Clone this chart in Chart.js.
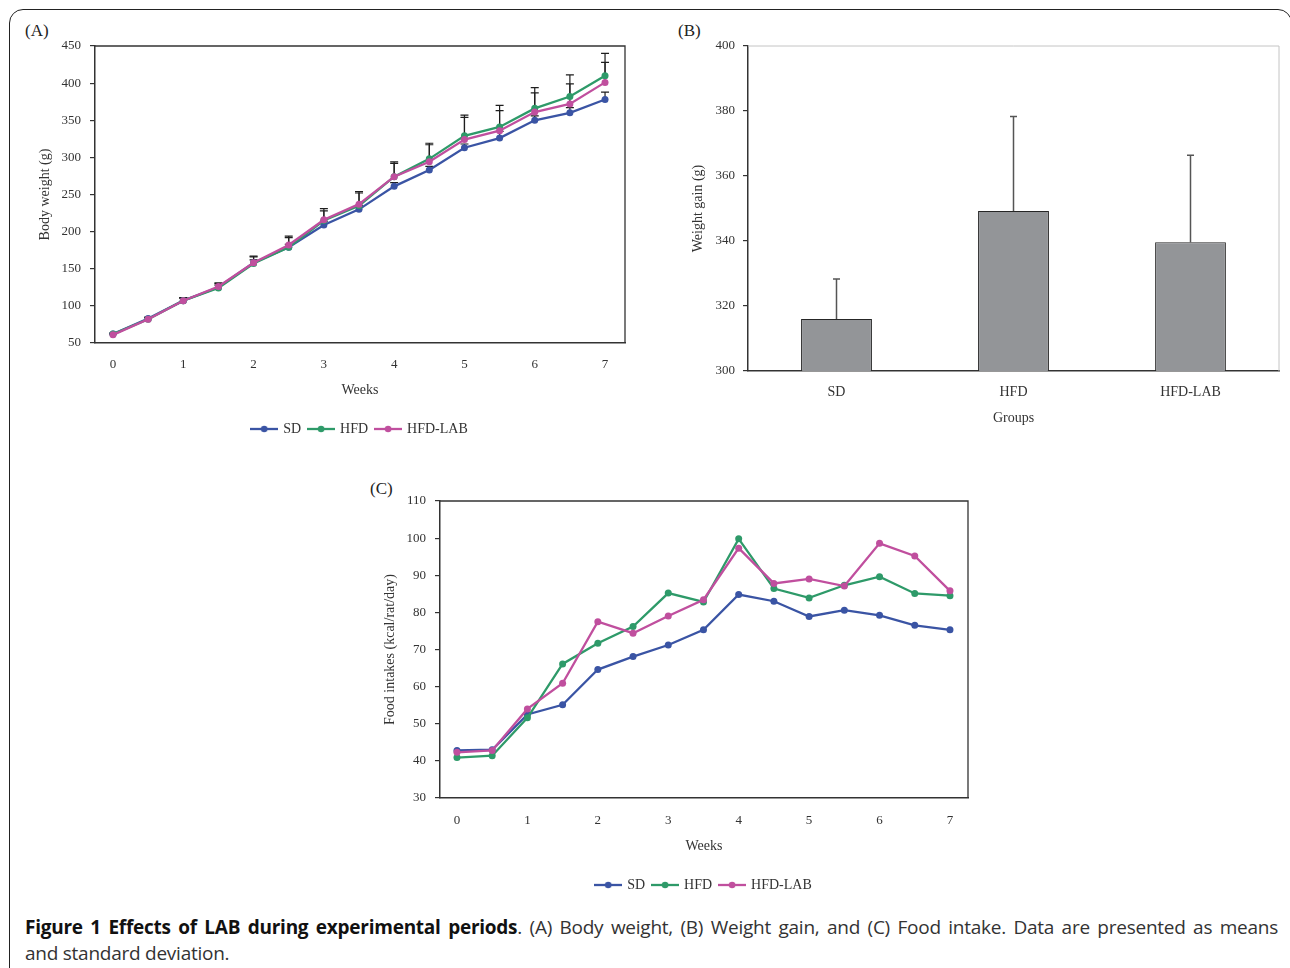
<!DOCTYPE html>
<html>
<head>
<meta charset="utf-8">
<script src="https://cdn.jsdelivr.net/npm/chart.js"></script>
<style>
  html, body { margin: 0; padding: 0; background: #fff; }
  body { width: 1290px; height: 968px; overflow: hidden; position: relative; }
  .frame { position: absolute; left: 9px; top: 9px; width: 1283px; height: 1000px;
           border: 1.5px solid #222; border-radius: 14px; box-sizing: border-box; }
  canvas { position: absolute; }
  .panel { position: absolute; font-family: "Liberation Serif", serif; font-size: 17px; color: #222; }
  .caption { position: absolute; left: 25px; width: 1253px;
             font-family: "Open Sans", sans-serif; font-size: 19px; letter-spacing: -0.25px;
             line-height: 26px; color: #333; white-space: nowrap; }
  .caption.first { top: 914px; text-align: justify; text-align-last: justify; white-space: normal; }
  .caption.second { top: 940px; }
  .caption b { color: #111; }
</style>
</head>
<body>
<div class="frame"></div>
<div class="panel" style="left:25px;top:21px">(A)</div>
<div class="panel" style="left:678px;top:21px">(B)</div>
<div class="panel" style="left:370px;top:479px">(C)</div>

<canvas id="chartA" width="620" height="426" style="left:20px;top:20px"></canvas>
<canvas id="chartB" width="630" height="421" style="left:660px;top:20px"></canvas>
<canvas id="chartC" width="620" height="422" style="left:360px;top:480px"></canvas>

<div class="caption first"><b>Figure 1 Effects of LAB during experimental periods</b>. (A) Body weight, (B) Weight gain, and (C) Food intake. Data are presented as means</div>
<div class="caption second">and standard deviation.</div>

<script>
// weeks on the x axis of (A) and (C)
const weeks = [0, 0.5, 1, 1.5, 2, 2.5, 3, 3.5, 4, 4.5, 5, 5.5, 6, 6.5, 7];
const weekTicks = [0, 1, 2, 3, 4, 5, 6, 7];
const groups = ['SD', 'HFD', 'HFD-LAB'];

// (A) body weight (g), mean and upper SD
const bwSD  = [62, 83, 107, 125, 158, 179, 209, 230, 261, 283, 313, 326, 350, 360, 378];
const bwHFD = [62, 82, 107, 124, 157, 179, 215, 235, 274, 298, 329, 341, 366, 382, 410];
const bwLAB = [61, 82, 107, 126, 158, 182, 216, 237, 274, 294, 324, 336, 361, 372, 401];
const bwErrSD  = [1, 2, 3, 3, 4, 4, 5, 5, 5, 5, 5, 9, 6, 7, 10];
const bwErrHFD = [1, 2, 4, 6, 10, 15, 16, 19, 20, 21, 28, 29, 28, 29, 30];
const bwErrLAB = [1, 2, 4, 5, 8, 10, 12, 15, 18, 23, 30, 27, 26, 27, 27];
const bwTicks = [50, 450, 50];

// (B) weight gain (g)
const gain = [316, 349.2, 339.6];
const gainErr = [12.3, 29.1, 26.8];
const gainTicks = [300, 400, 20];

// (C) food intake (kcal/rat/day)
const fiSD  = [42.8, 43.0, 52.5, 55.1, 64.6, 68.1, 71.2, 75.3, 84.8, 83.0, 78.9, 80.6, 79.2, 76.5, 75.3];
const fiHFD = [40.9, 41.4, 51.6, 66.1, 71.7, 76.2, 85.2, 82.8, 99.8, 86.4, 83.9, 87.3, 89.6, 85.1, 84.5];
const fiLAB = [42.3, 42.8, 54.0, 60.9, 77.5, 74.4, 79.0, 83.4, 97.3, 87.8, 89.0, 87.1, 98.6, 95.2, 85.8];
const fiTicks = [30, 110, 10];

const colSD = '#3a54a4', colHFD = '#2e9a69', colLAB = '#c04f9e';
const serif = '"Liberation Serif", "Times New Roman", serif';
const ink = '#333';

function pts(ys) { return ys.map((y, i) => ({ x: weeks[i], y })); }
function val(d) { return (d !== null && typeof d === 'object') ? d.y : d; }

// line + dot marker for the legend
function lineMarker(color) {
  const c = document.createElement('canvas');
  c.width = 28; c.height = 8;
  const g = c.getContext('2d');
  g.strokeStyle = color; g.lineWidth = 2.3;
  g.beginPath(); g.moveTo(0, 4); g.lineTo(28, 4); g.stroke();
  g.fillStyle = color;
  g.beginPath(); g.arc(14, 4, 3.3, 0, Math.PI * 2); g.fill();
  return c;
}

// upward error bars
const errorBars = {
  id: 'errorBars',
  beforeDatasetsDraw(chart, args, opts) {
    const { ctx } = chart;
    const y = chart.scales.y;
    ctx.save();
    ctx.strokeStyle = opts.color || '#222';
    ctx.lineWidth = opts.width || 1.2;
    chart.data.datasets.forEach((ds, i) => {
      if (!ds.errors) return;
      chart.getDatasetMeta(i).data.forEach((el, j) => {
        const v = val(ds.data[j]);
        const y0 = y.getPixelForValue(v);
        const y1 = y.getPixelForValue(v + ds.errors[j]);
        const cap = (opts.cap || 8) / 2;
        ctx.beginPath();
        ctx.moveTo(el.x, y0); ctx.lineTo(el.x, y1);
        ctx.moveTo(el.x - cap, y1); ctx.lineTo(el.x + cap, y1);
        ctx.stroke();
      });
    });
    ctx.restore();
  }
};

// top and right edges of the plot
const frame = {
  id: 'frame',
  beforeDatasetsDraw(chart, args, opts) {
    const { ctx, chartArea: a } = chart;
    ctx.save();
    ctx.strokeStyle = opts.color;
    ctx.lineWidth = opts.width;
    ctx.beginPath();
    ctx.moveTo(a.left, a.top); ctx.lineTo(a.right, a.top); ctx.lineTo(a.right, a.bottom);
    ctx.stroke();
    ctx.restore();
  }
};

// centre the legend on the plot area rather than on the canvas
const centerLegend = {
  id: 'centerLegend',
  afterLayout(chart) {
    const l = chart.legend;
    if (!l) return;
    const w = l.right - l.left;
    const c = (chart.chartArea.left + chart.chartArea.right) / 2;
    l.left = c - w / 2; l.right = c + w / 2;
  }
};

function yAxis(t, title, width, pad) {
  return {
    min: t[0], max: t[1],
    ticks: { stepSize: t[2], color: ink, font: { family: serif, size: 13 }, padding: pad },
    grid: { drawOnChartArea: false, drawTicks: true, tickLength: 5, color: ink, lineWidth: 1.2 },
    border: { color: ink, width: 1.5 },
    title: { display: true, text: title, color: ink, font: { family: serif, size: 14 }, padding: 0 },
    afterFit(s) { s.width = width; }
  };
}

function weekAxis(min, max, tickPad, titlePad, height) {
  return {
    type: 'linear', min, max,
    afterBuildTicks(s) { s.ticks = weekTicks.map(v => ({ value: v })); },
    ticks: { color: ink, font: { family: serif, size: 13 }, padding: tickPad },
    grid: { display: false, drawTicks: false },
    border: { color: ink, width: 1.5 },
    title: { display: true, text: 'Weeks', color: ink, font: { family: serif, size: 14 },
             padding: { top: 0, bottom: titlePad } },
    afterFit(s) { s.height = height; }
  };
}

function lineDatasets(sd, hfd, lab, errs) {
  const mk = (label, data, color, order, err) => ({
    label, data: pts(data), borderColor: color, backgroundColor: color,
    borderWidth: 2.3, pointRadius: 3.5, pointBorderWidth: 0, pointHoverRadius: 3.5,
    order, errors: err
  });
  return [
    mk('SD', sd, colSD, 3, errs && errs[0]),
    mk('HFD', hfd, colHFD, 2, errs && errs[1]),
    mk('HFD-LAB', lab, colLAB, 1, errs && errs[2])
  ];
}

const markers = [lineMarker(colSD), lineMarker(colHFD), lineMarker(colLAB)];
const legendOpts = {
  position: 'bottom',
  labels: {
    usePointStyle: true, pointStyleWidth: 24, padding: 8, color: ink,
    font: { family: serif, size: 14 },
    sort: (a, b) => a.datasetIndex - b.datasetIndex,
    generateLabels(chart) {
      const items = Chart.defaults.plugins.legend.labels.generateLabels(chart);
      items.forEach(it => { it.pointStyle = markers[it.datasetIndex]; });
      return items;
    }
  }
};

// (A) Body weight
new Chart(document.getElementById('chartA'), {
  type: 'line',
  data: { datasets: lineDatasets(bwSD, bwHFD, bwLAB, [bwErrSD, bwErrHFD, bwErrLAB]) },
  options: {
    responsive: false, animation: false,
    layout: { padding: { left: 16.6, top: 26, right: 15, bottom: 0 } },
    scales: {
      x: weekAxis(-0.256, 7.284, 14.2, 15.6, 71),
      y: yAxis(bwTicks, 'Body weight (g)', 58.4, 9)
    },
    plugins: {
      legend: legendOpts, tooltip: { enabled: false },
      errorBars: { color: '#1e1e1e', width: 1.2, cap: 8 },
      frame: { color: ink, width: 1.3 }
    }
  },
  plugins: [errorBars, frame, centerLegend]
});

// (B) Weight gain
new Chart(document.getElementById('chartB'), {
  type: 'bar',
  data: {
    labels: groups,
    datasets: [{
      data: gain, errors: gainErr, backgroundColor: '#939598', borderColor: '#262626',
      borderWidth: 1, barPercentage: 0.4, categoryPercentage: 1
    }]
  },
  options: {
    responsive: false, animation: false,
    layout: { padding: { left: 29.6, top: 26, right: 11, bottom: 14.6 } },
    scales: {
      x: {
        ticks: { color: ink, font: { family: serif, size: 14 }, padding: 12.6 },
        grid: { display: false, drawTicks: false },
        border: { color: ink, width: 1.5 },
        title: { display: true, text: 'Groups', color: ink, font: { family: serif, size: 14 }, padding: 0 },
        afterFit(s) { s.height = 55.4; }
      },
      y: yAxis(gainTicks, 'Weight gain (g)', 58.4, 8)
    },
    plugins: {
      legend: { display: false }, tooltip: { enabled: false },
      errorBars: { color: '#555', width: 1.5, cap: 7 },
      frame: { color: '#c4c4c4', width: 1 }
    }
  },
  plugins: [frame, errorBars]
});

// (C) Food intake
new Chart(document.getElementById('chartC'), {
  type: 'line',
  data: { datasets: lineDatasets(fiSD, fiHFD, fiLAB, null) },
  options: {
    responsive: false, animation: false,
    layout: { padding: { left: 21.6, top: 21, right: 12, bottom: 0 } },
    scales: {
      x: weekAxis(-0.241, 7.256, 15.2, 15.6, 72),
      y: yAxis(fiTicks, 'Food intakes (kcal/rat/day)', 58.4, 9)
    },
    plugins: {
      legend: legendOpts, tooltip: { enabled: false },
      frame: { color: ink, width: 1.3 }
    }
  },
  plugins: [frame, centerLegend]
});
</script>
</body>
</html>
